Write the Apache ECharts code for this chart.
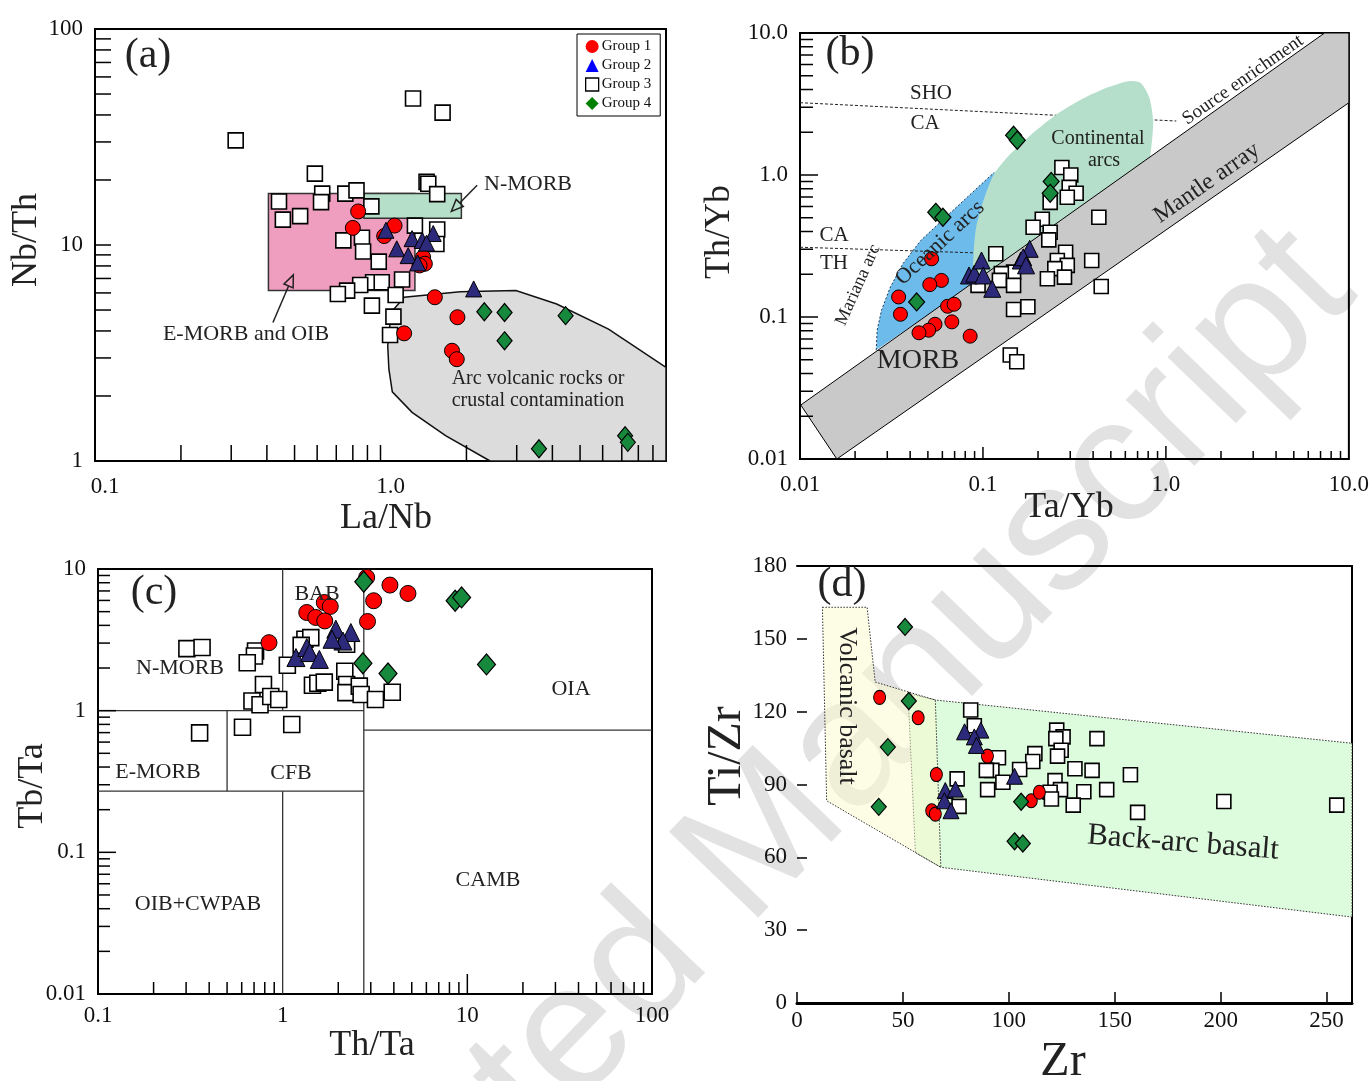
<!DOCTYPE html>
<html>
<head>
<meta charset="utf-8">
<script src="https://cdn.jsdelivr.net/npm/echarts@6/dist/echarts.min.js"></script>
<style>
html, body { margin: 0; padding: 0; background: #fff; }
#chart { width: 1372px; height: 1081px; }
</style>
</head>
<body>
<div id="chart"></div>
<script>
// (a) La/Nb vs Nb/Th
var aGroup1 = [[0.835,14.3],[0.80,12.0],[1.12,12.3],[1.03,11.0],[1.41,8.79],[1.43,8.19],[1.37,8.04],[1.55,5.73],[1.86,4.63],[1.21,3.90],[1.78,3.24],[1.85,2.96]];
var aGroup2 = [[1.045,11.7],[1.29,10.7],[1.40,10.5],[1.53,11.3],[1.14,9.6],[1.25,8.93],[1.45,10.2],[1.35,8.26],[2.12,6.26]];
var aGroup3 = [[0.311,30.5],[1.30,47.7],[1.65,41.0],[0.589,21.4],[1.45,19.6],[1.47,19.2],[1.58,17.2],[0.441,15.9],[0.625,17.3],[0.619,15.8],[0.753,17.3],[0.824,17.9],[0.929,15.1],[0.455,13.1],[0.523,13.6],[1.32,12.3],[1.58,11.8],[0.741,10.5],[0.861,10.8],[0.869,9.33],[0.986,8.38],[1.57,10.1],[0.942,6.72],[1.01,6.72],[1.19,6.92],[0.849,6.53],[0.764,6.15],[0.709,5.93],[1.13,5.87],[0.933,5.24],[1.11,4.66],[1.08,3.83]];
var aGroup4 = [[2.31,4.91],[2.72,4.87],[4.45,4.71],[2.72,3.60],[3.59,1.14],[7.19,1.31],[7.35,1.22]];
var aEmorbBox = [[0.405,6.15],[1.32,6.15],[1.32,17.3],[0.405,17.3]];
var aNmorbBox = [[0.875,13.3],[1.92,13.3],[1.92,17.3],[0.875,17.3]];
var aArcField = [[2.42,1],[1.69,1.31],[1.29,1.68],[1.10,2.09],[1.07,2.66],[1.06,3.42],[1.09,4.88],[1.21,5.73],[1.90,6.08],[2.98,6.15],[4.14,5.33],[6.29,4.08],[10,2.71],[10,1]];
var aArrowNmorb = [[2.18,18.9],[1.77,14.3]];
var aArrowEmorb = [[0.42,4.38],[0.495,7.27]];

// (b) Ta/Yb vs Th/Yb
var bGroup1 = [[0.0524,0.257],[0.0593,0.181],[0.0512,0.169],[0.0346,0.1384],[0.0354,0.1045],[0.0641,0.119],[0.0695,0.123],[0.0676,0.0924],[0.0547,0.0889],[0.0505,0.0807],[0.0447,0.0774],[0.0851,0.0733]];
var bGroup2 = [[0.0839,0.196],[0.0897,0.202],[0.0982,0.250],[0.1004,0.196],[0.1124,0.158],[0.161,0.25],[0.180,0.302],[0.166,0.263],[0.172,0.231]];
var bGroup3 = [[0.270,1.13],[0.302,1.0],[0.296,0.818],[0.323,0.743],[0.289,0.697],[0.233,0.642],[0.430,0.504],[0.211,0.488],[0.188,0.429],[0.233,0.395],[0.229,0.349],[0.1175,0.279],[0.283,0.286],[0.255,0.250],[0.289,0.231],[0.247,0.219],[0.393,0.25],[0.147,0.207],[0.126,0.202],[0.123,0.181],[0.147,0.167],[0.225,0.186],[0.279,0.191],[0.094,0.167],[0.443,0.164],[0.147,0.113],[0.176,0.118],[0.141,0.054],[0.153,0.0484]];
var bGroup4 = [[0.147,1.905],[0.154,1.757],[0.236,0.901],[0.233,0.743],[0.0552,0.546],[0.0604,0.504],[0.0434,0.1276]];
var bMantleBand = [[0.0101,0.024],[0.0159,0.01],[10,3.23],[10,10],[7.36,10]];
var bOceanicEdge = [[0.0261,0.0585],[0.0264,0.0807],[0.0279,0.1117],[0.0312,0.1626],[0.0365,0.237],[0.0457,0.346],[0.0598,0.478],[0.082,0.697],[0.1148,1.04]];
var bOceanicField = bOceanicEdge.concat([[0.221,1.26],[0.346,0.561]]);
var bContinentalField = [[0.0897,0.1717],[0.0889,0.2786],[0.0918,0.4285],[0.1005,0.659],[0.1148,1.014],[0.1406,1.40],[0.1844,1.94],[0.2524,2.67],[0.346,3.41],[0.474,4.11],[0.621,4.58],[0.726,4.46],[0.812,3.50],[0.851,2.40],[0.832,1.56],[0.795,1.13],[0.542,0.532],[0.1175,0.1626]];
var bShoLine = [[0.01,3.23],[0.2415,2.64],[1.14,2.40]];
var bThLine = [[0.01,0.310],[0.0897,0.283]];

// (c) Th/Ta vs Tb/Ta
var cGroup1 = [[2.85,8.73],[3.81,7.70],[4.77,6.72],[3.11,5.97],[2.88,4.26],[1.68,5.80],[1.81,5.44],[1.35,4.93],[1.51,4.55],[1.69,4.30],[0.843,3.02]];
var cGroup2 = [[1.94,3.76],[2.34,3.56],[2.12,3.10],[1.85,3.19],[1.18,2.37],[1.35,2.79],[1.40,2.57],[1.58,2.30]];
var cGroup3 = [[0.303,2.74],[0.366,2.79],[0.713,2.64],[0.703,2.43],[0.643,2.18],[1.06,2.09],[1.32,3.19],[1.42,3.28],[1.26,2.89],[2.22,2.94],[0.787,1.53],[0.682,1.17],[0.754,1.10],[0.862,1.26],[0.952,1.20],[1.45,1.51],[1.55,1.56],[1.68,1.59],[2.17,1.90],[2.22,1.53],[2.20,1.34],[2.60,1.49],[2.66,1.30],[3.18,1.20],[3.92,1.35],[0.606,0.764],[1.12,0.798],[0.355,0.697]];
var cGroup4 = [[2.75,8.13],[8.59,5.97],[9.31,6.30],[12.7,2.12],[2.72,2.16],[3.72,1.83]];
var cFieldLines = [
    [[0.1,1],[2.75,1]],
    [[1,1],[1,10]],
    [[0.5,0.27],[0.5,1]],
    [[0.1,0.27],[2.75,0.27]],
    [[1,0.01],[1,0.27]],
    [[2.75,0.01],[2.75,10]],
    [[2.75,0.73],[100,0.73]]
];

// (d) Zr vs Ti/Zr
var dGroup1 = [[39.0,125.9],[57.2,117.5],[65.8,94.1],[89.9,101.7],[63.6,79.2],[65.3,77.8],[110.6,83.3],[114.4,86.8]];
var dGroup2 = [[79.1,111.7],[86.8,112.4],[83.7,109.6],[84.7,106.1],[70.0,87.5],[74.8,88.1],[69.6,83.3],[72.7,79.2],[102.7,93.4]];
var dGroup3 = [[82.0,120.7],[83.7,114.2],[122.6,112.4],[125.6,109.6],[122.2,108.9],[124.7,104.1],[123.0,101.7],[141.6,108.9],[112.3,102.7],[111.3,99.5],[95.1,101.0],[105.1,96.2],[92.0,95.8],[89.4,95.8],[97.2,90.9],[90.0,87.9],[75.6,92.3],[76.5,81.0],[131.2,96.5],[139.3,95.8],[121.8,91.6],[124.4,87.9],[119.5,86.8],[120.1,84.0],[135.4,87.0],[146.2,87.9],[157.4,94.0],[130.4,81.5],[160.8,78.5],[201.5,83.0],[254.8,81.5]];
var dGroup4 = [[51.0,154.9],[52.8,124.4],[42.9,105.4],[38.6,80.8],[105.8,82.9],[102.7,66.6],[106.6,65.7]];
var dVolcanicField = [[12,163],[33.1,163],[36.9,132.2],[65.3,124.8],[67.9,55.9],[14.0,83.3]];
var dBackArcField = [[52.4,127.6],[65.3,124.8],[262,107],[262,35.4],[67.9,55.9],[55.9,61.9]];

// minor ticks of a log decade
var MINOR = [2,3,4,5,6,7,8,9];

var SERIF = '"Liberation Serif", "Times New Roman", serif';

function decade(k) {
    return MINOR.map(function (m) { return +(m * Math.pow(10, k)).toPrecision(3); });
}
function ticks(list, len) {
    return list.map(function (v) { return [v, len]; });
}

// filled / outlined field drawn through the grid's scales
function field(g, pts, style, z, smooth) {
    return {
        type: 'custom', xAxisIndex: g, yAxisIndex: g, z: z, silent: true,
        data: [pts[0]],
        renderItem: function (params, api) {
            return {
                type: 'polygon',
                shape: { points: pts.map(function (p) { return api.coord(p); }), smooth: smooth || 0 },
                style: style
            };
        }
    };
}
function lines(g, list, style, z) {
    return {
        type: 'custom', xAxisIndex: g, yAxisIndex: g, z: z, silent: true,
        data: [list[0][0]],
        renderItem: function (params, api) {
            return {
                type: 'group',
                children: list.map(function (pts) {
                    return {
                        type: 'polyline',
                        shape: { points: pts.map(function (p) { return api.coord(p); }) },
                        style: Object.assign({ fill: null }, style)
                    };
                })
            };
        }
    };
}
function arrow(g, pts, z) {
    return {
        type: 'custom', xAxisIndex: g, yAxisIndex: g, z: z, silent: true,
        data: [pts[0]],
        renderItem: function (params, api) {
            var p0 = api.coord(pts[0]), p1 = api.coord(pts[1]);
            var dx = p1[0] - p0[0], dy = p1[1] - p0[1];
            var l = Math.sqrt(dx * dx + dy * dy);
            dx /= l; dy /= l;
            var bx = p1[0] - dx * 12, by = p1[1] - dy * 12;
            return {
                type: 'group',
                children: [
                    { type: 'line', shape: { x1: p0[0], y1: p0[1], x2: bx, y2: by }, style: { stroke: '#222', lineWidth: 1.5 } },
                    { type: 'polygon', shape: { points: [p1, [bx - dy * 5, by + dx * 5], [bx + dy * 5, by - dx * 5]] },
                      style: { fill: 'rgba(255,255,255,0)', stroke: '#222', lineWidth: 1.5 } }
                ]
            };
        }
    };
}
// inward ticks; dir 'x' = along bottom edge at y = at, 'y' = along left edge at x = at
function tickMarks(g, dir, list, at) {
    return {
        type: 'custom', xAxisIndex: g, yAxisIndex: g, z: 8, silent: true,
        data: [dir === 'x' ? [list[0][0], at] : [at, list[0][0]]],
        renderItem: function (params, api) {
            return {
                type: 'group',
                children: list.map(function (t) {
                    var p = api.coord(dir === 'x' ? [t[0], at] : [at, t[0]]);
                    var s = dir === 'x'
                        ? { x1: p[0], y1: p[1], x2: p[0], y2: p[1] - t[1] }
                        : { x1: p[0], y1: p[1], x2: p[0] + t[1], y2: p[1] };
                    return { type: 'line', shape: s, style: { stroke: '#000', lineWidth: 1.5 } };
                })
            };
        }
    };
}

var groupStyle = {
    'Group 1': { symbol: 'circle', color: '#ff0000', border: 1 },
    'Group 2': { symbol: 'triangle', color: '#2d2a7b', border: 1 },
    'Group 3': { symbol: 'rect', color: '#ffffff', border: 1.6 },
    'Group 4': { symbol: 'diamond', color: '#17893d', border: 1.2 }
};
function points(g, name, data, size) {
    var st = groupStyle[name];
    return {
        type: 'scatter', name: name, xAxisIndex: g, yAxisIndex: g, z: 10,
        data: data, symbol: st.symbol, symbolSize: size,
        itemStyle: { color: st.color, borderColor: '#000', borderWidth: st.border, opacity: 1 }
    };
}

function logLabels(map, extra) {
    return Object.assign({
        color: '#111', fontFamily: SERIF, fontSize: 23,
        formatter: function (v) {
            var k = Math.round(Math.log(v) / Math.LN10);
            return map[k] !== undefined ? map[k] : '';
        }
    }, extra || {});
}
function logAxis(g, min, max, map, extra) {
    return {
        gridIndex: g, type: 'log', logBase: 10, min: min, max: max,
        axisLine: { show: false }, axisTick: { show: false }, splitLine: { show: false },
        axisLabel: logLabels(map, extra)
    };
}

var labelTexts = [
    // (a)
    { t: '(a)', x: 148, y: 56, s: 42 },
    { t: 'N-MORB', x: 528, y: 184, s: 22 },
    { t: 'E-MORB and OIB', x: 246, y: 334, s: 22 },
    { t: 'Arc volcanic rocks or', x: 538, y: 379, s: 20 },
    { t: 'crustal contamination', x: 538, y: 401, s: 20 },
    // (b)
    { t: '(b)', x: 850, y: 54, s: 42 },
    { t: 'SHO', x: 931, y: 93, s: 21 },
    { t: 'CA', x: 925, y: 123, s: 21 },
    { t: 'CA', x: 834, y: 235, s: 21 },
    { t: 'TH', x: 834, y: 263, s: 21 },
    { t: 'Mariana arc', x: 858, y: 285, s: 18, r: 66 },
    { t: 'Oceanic arcs', x: 940, y: 243, s: 22, r: 43 },
    { t: 'Continental', x: 1098, y: 139, s: 20 },
    { t: 'arcs', x: 1104, y: 161, s: 20 },
    { t: 'Source enrichment', x: 1243, y: 80, s: 19, r: 35 },
    { t: 'Mantle array', x: 1207, y: 183, s: 24, r: 35 },
    { t: 'MORB', x: 918, y: 361, s: 28 },
    // (c)
    { t: '(c)', x: 154, y: 593, s: 42 },
    { t: 'BAB', x: 317, y: 594, s: 22 },
    { t: 'N-MORB', x: 180, y: 668, s: 22 },
    { t: 'E-MORB', x: 158, y: 772, s: 22 },
    { t: 'CFB', x: 291, y: 773, s: 22 },
    { t: 'OIA', x: 571, y: 689, s: 22 },
    { t: 'CAMB', x: 488, y: 880, s: 22 },
    { t: 'OIB+CWPAB', x: 198, y: 904, s: 22 },
    // (d)
    { t: '(d)', x: 842, y: 585, s: 42 },
    { t: 'Volcanic basalt', x: 847, y: 706, s: 26, r: -90 },
    { t: 'Back-arc basalt', x: 1183, y: 843, s: 31, r: -4.5 },
    // axis titles
    { t: 'Nb/Th', x: 27, y: 240, s: 36, r: 90 },
    { t: 'La/Nb', x: 386, y: 519, s: 36 },
    { t: 'Th/Yb', x: 720, y: 232, s: 36, r: 90 },
    { t: 'Ta/Yb', x: 1069, y: 508, s: 36 },
    { t: 'Tb/Ta', x: 33, y: 786, s: 36, r: 90 },
    { t: 'Th/Ta', x: 372, y: 1046, s: 36 },
    { t: 'Ti/Zr', x: 727, y: 756, s: 48, r: 90 },
    { t: 'Zr', x: 1063, y: 1062, s: 48 }
];

var graphics = [{
    type: 'text', x: 740, y: 865, rotation: 46 * Math.PI / 180, z: -10, silent: true,
    style: { text: 'Accepted Manuscript', fill: '#e2e2e2', fontSize: 180,
             fontFamily: '"Liberation Sans", Arial, sans-serif',
             align: 'center', verticalAlign: 'middle', textAlign: 'center', textVerticalAlign: 'middle' }
}];
labelTexts.forEach(function (l) {
    graphics.push({
        type: 'text', x: l.x, y: l.y, rotation: (l.r || 0) * Math.PI / 180, z: 50, silent: true,
        style: { text: l.t, fill: '#222', fontSize: l.s, fontFamily: SERIF,
                 align: 'center', verticalAlign: 'middle', textAlign: 'center', textVerticalAlign: 'middle' }
    });
});

var frame = { show: true, borderColor: '#000', borderWidth: 2, backgroundColor: 'transparent' };

var option = {
    animation: false,
    backgroundColor: '#fff',
    grid: [
        Object.assign({ left: 95, top: 29, width: 571, height: 432 }, frame),
        Object.assign({ left: 800, top: 33, width: 550, height: 426 }, frame),
        Object.assign({ left: 98, top: 569, width: 554, height: 425 }, frame),
        { left: 797, top: 566, width: 555, height: 437, show: false }
    ],
    legend: {
        orient: 'vertical', left: 577, top: 34, padding: [5, 9, 5, 8], itemGap: 4,
        itemWidth: 13, itemHeight: 13, borderColor: '#000', borderWidth: 1, borderRadius: 0,
        backgroundColor: '#fff', z: 20,
        textStyle: { fontFamily: SERIF, fontSize: 15, color: '#111', padding: [0, 0, 0, -2] },
        data: [
            { name: 'Group 1', icon: 'circle', itemStyle: { color: '#ff0000', borderWidth: 0 } },
            { name: 'Group 2', icon: 'triangle', itemStyle: { color: '#0000ff', borderWidth: 0 } },
            { name: 'Group 3', icon: 'rect', itemStyle: { color: '#fff', borderColor: '#000', borderWidth: 1.3 } },
            { name: 'Group 4', icon: 'diamond', itemStyle: { color: '#008000', borderWidth: 0 } }
        ]
    },
    xAxis: [
        logAxis(0, 0.1, 10, { '-1': '0.1', '0': '1.0' }, { margin: 14, padding: [0, 0, 0, 20] }),
        logAxis(1, 0.01, 10, { '-2': '0.01', '-1': '0.1', '0': '1.0', '1': '10.0' }, { margin: 14 }),
        logAxis(2, 0.1, 100, { '-1': '0.1', '0': '1', '1': '10', '2': '100' }, { margin: 10 }),
        {
            gridIndex: 3, type: 'value', min: 0, max: 262, interval: 50,
            axisLine: { show: true, onZero: false, lineStyle: { color: '#000', width: 3 } },
            axisTick: { show: true, inside: true, length: 11, lineStyle: { color: '#000', width: 1.5 } },
            splitLine: { show: false },
            axisLabel: { color: '#111', fontFamily: SERIF, fontSize: 23, margin: 6,
                         formatter: function (v) { return v % 50 === 0 ? String(v) : ''; } }
        },
        {
            gridIndex: 3, type: 'value', position: 'top', min: 0, max: 262,
            axisLine: { show: true, onZero: false, lineStyle: { color: '#000', width: 2 } },
            axisTick: { show: false }, axisLabel: { show: false }, splitLine: { show: false }
        }
    ],
    yAxis: [
        logAxis(0, 1, 100, { '0': '1', '1': '10', '2': '100' }, { margin: 12 }),
        logAxis(1, 0.01, 10, { '-2': '0.01', '-1': '0.1', '0': '1.0', '1': '10.0' }, { margin: 12 }),
        logAxis(2, 0.01, 10, { '-2': '0.01', '-1': '0.1', '0': '1', '1': '10' }, { margin: 12 }),
        {
            gridIndex: 3, type: 'value', min: 0, max: 180, interval: 30,
            axisLine: { show: false },
            axisTick: { show: true, inside: true, length: 10, lineStyle: { color: '#000', width: 1.5 } },
            splitLine: { show: false },
            axisLabel: { color: '#111', fontFamily: SERIF, fontSize: 23, margin: 10 }
        },
        {
            gridIndex: 3, type: 'value', position: 'right', min: 0, max: 180,
            axisLine: { show: true, onZero: false, lineStyle: { color: '#000', width: 2 } },
            axisTick: { show: false }, axisLabel: { show: false }, splitLine: { show: false }
        }
    ],
    graphic: graphics,
    series: [
        // (a) fields
        field(0, aArcField, { fill: '#dcdcdc', stroke: '#111', lineWidth: 1.5 }, 1),
        field(0, aEmorbBox, { fill: '#f09ebf', stroke: '#333', lineWidth: 1.5 }, 2),
        field(0, aNmorbBox, { fill: '#b6dfc9', stroke: '#333', lineWidth: 1.5 }, 3),
        arrow(0, aArrowNmorb, 4),
        arrow(0, aArrowEmorb, 4),
        tickMarks(0, 'x', ticks(decade(-1), 16).concat(ticks([1], 16), ticks(decade(0), 16)), 1),
        tickMarks(0, 'y', ticks(decade(0), 16).concat(ticks([10], 16), ticks(decade(1), 16)), 0.1),
        points(0, 'Group 3', aGroup3, 15),
        points(0, 'Group 1', aGroup1, 15),
        points(0, 'Group 2', aGroup2, 16),
        points(0, 'Group 4', aGroup4, [15, 18]),

        // (b) fields
        field(1, bOceanicField, { fill: '#6dbbea', stroke: null }, 1),
        lines(1, [bOceanicEdge], { stroke: '#1a3a5a', lineWidth: 1, lineDash: [2, 2] }, 2),
        lines(1, [bThLine, bShoLine], { stroke: '#222', lineWidth: 1, lineDash: [3, 2] }, 2),
        field(1, bContinentalField, { fill: '#b5dfcb', stroke: null }, 3, 0.25),
        field(1, bMantleBand, { fill: '#c9c9c9', stroke: '#000', lineWidth: 1 }, 4),
        tickMarks(1, 'x', ticks(decade(-2), 8).concat(ticks([0.1], 12), ticks(decade(-1), 8), ticks([1], 13), ticks(decade(0), 8)), 0.01),
        tickMarks(1, 'y', ticks(decade(-2), 13).concat(ticks([0.1], 18), ticks(decade(-1), 13), ticks([1], 18), ticks(decade(0), 13)), 0.01),
        points(1, 'Group 3', bGroup3, 14),
        points(1, 'Group 1', bGroup1, 14),
        points(1, 'Group 2', bGroup2, 17),
        points(1, 'Group 4', bGroup4, [16, 18]),

        // (c) fields
        lines(2, cFieldLines, { stroke: '#333', lineWidth: 1.3 }, 2),
        tickMarks(2, 'x', ticks(decade(-1), 12).concat(ticks(decade(0), 12), ticks([10], 20), ticks(decade(1), 12)), 0.01),
        tickMarks(2, 'y', ticks(decade(-2), 12).concat(ticks([0.1], 18), ticks(decade(-1), 12), ticks([1], 18), ticks(decade(0), 12)), 0.1),
        points(2, 'Group 3', cGroup3, 16),
        points(2, 'Group 1', cGroup1, 16),
        points(2, 'Group 2', cGroup2, 18),
        points(2, 'Group 4', cGroup4, [18, 21]),

        // (d) fields
        field(3, dBackArcField, { fill: '#ddfbdd', stroke: '#333', lineWidth: 1, lineDash: [1.5, 1.5] }, 1),
        field(3, dVolcanicField, { fill: 'rgba(251,251,205,0.5)', stroke: '#333', lineWidth: 1, lineDash: [1.5, 1.5] }, 2),
        points(3, 'Group 3', dGroup3, 14),
        points(3, 'Group 1', dGroup1, [12, 14]),
        points(3, 'Group 2', dGroup2, 16),
        points(3, 'Group 4', dGroup4, [15, 17])
    ]
};

var chart = echarts.init(document.getElementById('chart'), null, { renderer: 'canvas' });
chart.setOption(option);
</script>
</body>
</html>
